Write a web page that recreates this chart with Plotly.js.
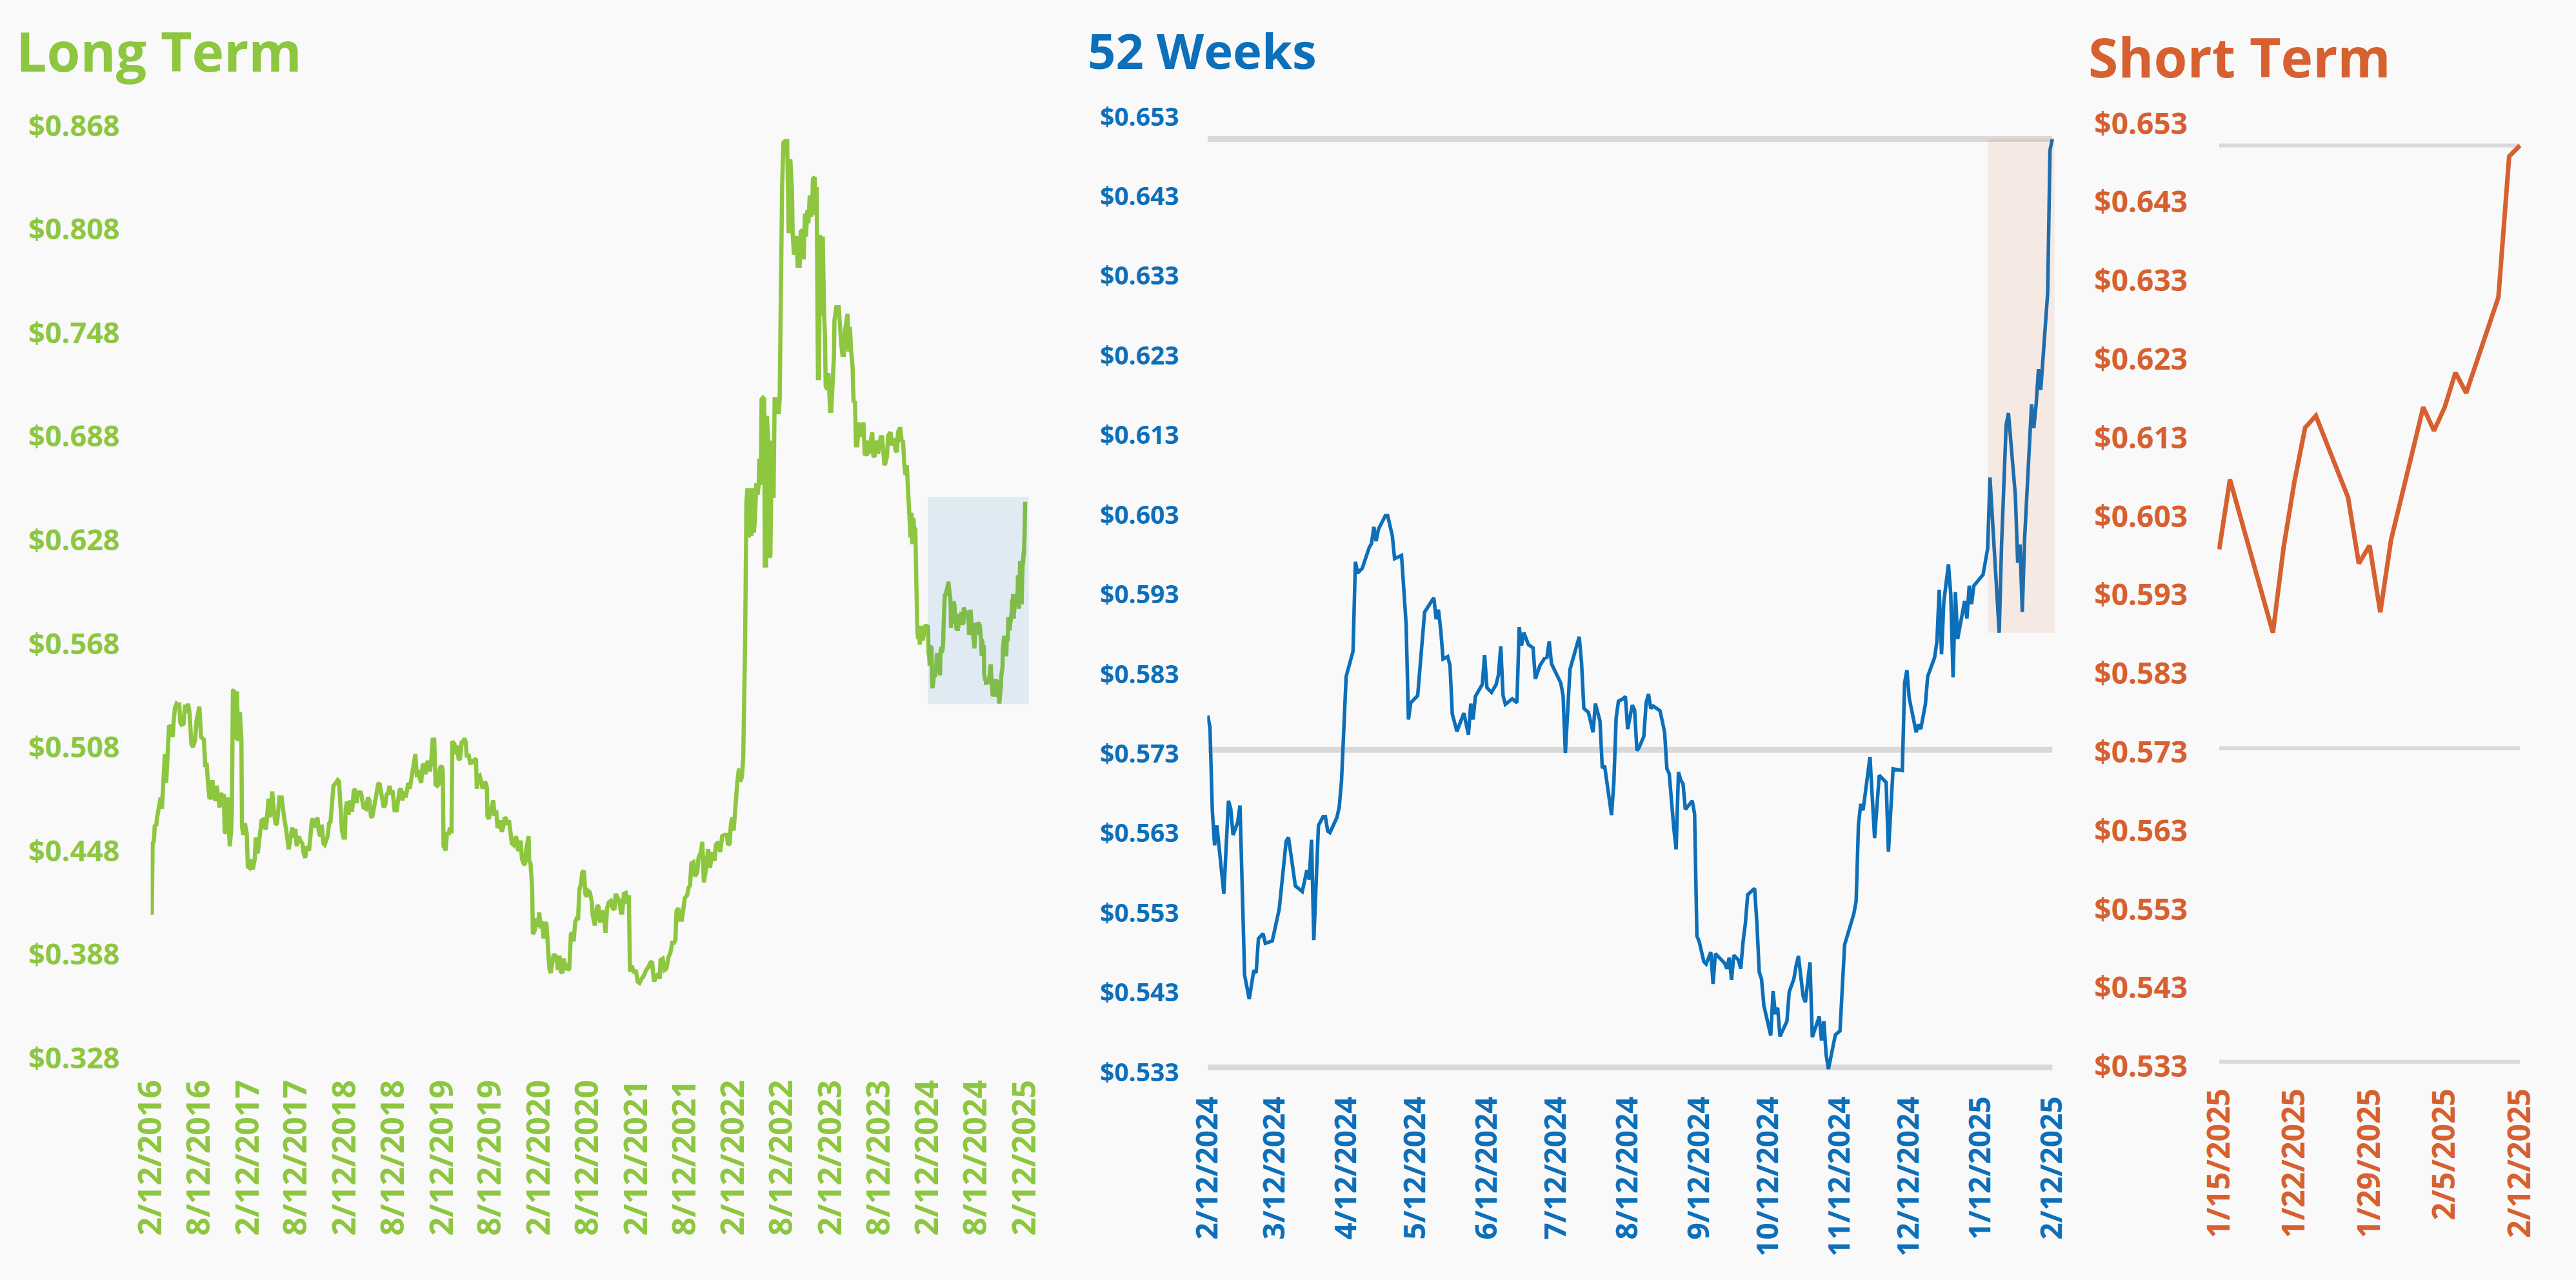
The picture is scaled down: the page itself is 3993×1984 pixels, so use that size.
<!DOCTYPE html>
<html><head><meta charset="utf-8">
<script src="https://cdn.plot.ly/plotly-3.0.1.min.js"></script>
<style>html,body{margin:0;padding:0;background:#F9F9F9;}#chart{width:3993px;height:1984px;}</style>
</head><body><div id="chart"></div>
<script>
// ---------- DATA ----------
const longDates = [
'2016-02-12','2016-02-14','2016-02-16','2016-02-19','2016-02-24','2016-02-27',
'2016-03-04','2016-03-06','2016-03-11','2016-03-15','2016-03-20','2016-03-25','2016-03-31',
'2016-04-05','2016-04-10','2016-04-16','2016-04-21','2016-04-27',
'2016-05-05','2016-05-08','2016-05-13','2016-05-19','2016-05-24','2016-05-29',
'2016-06-02','2016-06-07','2016-06-14','2016-06-20','2016-06-25',
'2016-07-01','2016-07-06','2016-07-09','2016-07-14','2016-07-20','2016-07-28',
'2016-08-02','2016-08-08','2016-08-13','2016-08-19','2016-08-24','2016-08-30',
'2016-09-04','2016-09-09','2016-09-15','2016-09-20','2016-09-25',
'2016-10-01','2016-10-06','2016-10-12','2016-10-17','2016-10-22','2016-10-28',
'2016-11-02','2016-11-08','2016-11-13','2016-11-16','2016-11-21','2016-11-27',
'2016-12-05','2016-12-10','2016-12-13','2016-12-17','2016-12-21','2016-12-27',
'2017-01-01','2017-01-06','2017-01-12','2017-01-15','2017-01-18','2017-01-20','2017-01-25','2017-01-31',
'2017-02-07','2017-02-11','2017-02-18','2017-02-26',
'2017-03-02','2017-03-09','2017-03-13','2017-03-20','2017-03-26','2017-03-31',
'2017-04-04','2017-04-14','2017-04-17','2017-04-21','2017-04-25','2017-04-30',
'2017-05-05','2017-05-14','2017-05-20','2017-05-27',
'2017-06-01','2017-06-10','2017-06-18','2017-06-23','2017-06-29',
'2017-07-04','2017-07-09','2017-07-15','2017-07-20','2017-07-28',
'2017-08-03','2017-08-09','2017-08-14','2017-08-22','2017-08-27',
'2017-09-04','2017-09-09','2017-09-15','2017-09-20','2017-09-29',
'2017-10-04','2017-10-10','2017-10-15','2017-10-20','2017-10-31',
'2017-11-05','2017-11-11','2017-11-16','2017-11-22','2017-11-27',
'2017-12-08','2017-12-14','2017-12-19','2017-12-24','2017-12-30',
'2018-01-04','2018-01-10','2018-01-15','2018-01-20','2018-01-26','2018-01-31',
'2018-02-06','2018-02-11','2018-02-14','2018-02-19','2018-02-25',
'2018-03-02','2018-03-10','2018-03-16','2018-03-21','2018-03-27',
'2018-04-01','2018-04-06','2018-04-12','2018-04-17','2018-04-22',
'2018-05-01','2018-05-09','2018-05-14','2018-05-20','2018-05-25','2018-05-30',
'2018-06-05','2018-06-10','2018-06-16','2018-06-21','2018-06-26',
'2018-07-02','2018-07-07','2018-07-13','2018-07-18','2018-07-24','2018-07-29',
'2018-08-03','2018-08-09','2018-08-17','2018-08-25','2018-08-30',
'2018-09-05','2018-09-10','2018-09-16','2018-09-21','2018-09-27',
'2018-10-02','2018-10-07','2018-10-13','2018-10-18','2018-10-24','2018-10-29',
'2018-11-03','2018-11-09','2018-11-14','2018-11-20','2018-11-25','2018-11-30',
'2018-12-06','2018-12-11','2018-12-17','2018-12-22','2018-12-28',
'2019-01-02','2019-01-07','2019-01-13','2019-01-18','2019-01-24','2019-01-29',
'2019-02-03','2019-02-09','2019-02-14','2019-02-17','2019-02-22','2019-02-25',
'2019-03-02','2019-03-08','2019-03-13','2019-03-19','2019-03-22','2019-03-30',
'2019-04-04','2019-04-09','2019-04-15','2019-04-20','2019-04-26',
'2019-05-01','2019-05-06','2019-05-12','2019-05-15','2019-05-23','2019-05-28',
'2019-06-02','2019-06-08','2019-06-13','2019-06-19','2019-06-22','2019-06-27',
'2019-07-03','2019-07-08','2019-07-14','2019-07-19','2019-07-25','2019-07-30',
'2019-08-01','2019-08-06','2019-08-12','2019-08-17','2019-08-23','2019-08-28',
'2019-09-03','2019-09-08','2019-09-13','2019-09-19','2019-09-24','2019-09-30',
'2019-10-05','2019-10-10','2019-10-16','2019-10-21','2019-10-27',
'2019-11-01','2019-11-07','2019-11-12','2019-11-17','2019-11-23','2019-11-28',
'2019-12-04','2019-12-09','2019-12-15','2019-12-20','2019-12-25','2019-12-30',
'2020-01-03','2020-01-05','2020-01-10','2020-01-16','2020-01-19','2020-01-27',
'2020-02-01','2020-02-06','2020-02-12','2020-02-17','2020-02-23','2020-02-28',
'2020-03-05','2020-03-10','2020-03-15','2020-03-21','2020-03-26',
'2020-04-01','2020-04-06','2020-04-12','2020-04-17','2020-04-22','2020-04-28',
'2020-05-03','2020-05-09','2020-05-14','2020-05-19','2020-05-25','2020-05-30',
'2020-06-04','2020-06-10','2020-06-15','2020-06-20','2020-06-26',
'2020-07-02','2020-07-07','2020-07-12','2020-07-18','2020-07-23','2020-07-29',
'2020-08-03','2020-08-09','2020-08-14','2020-08-20','2020-08-27','2020-08-31',
'2020-09-08','2020-09-17','2020-09-22','2020-09-28',
'2020-10-05','2020-10-11','2020-10-18','2020-10-24','2020-10-30',
'2020-11-07','2020-11-14','2020-11-21','2020-11-25',
'2020-12-01','2020-12-09','2020-12-15','2020-12-20','2020-12-26',
'2021-01-02','2021-01-08','2021-01-14','2021-01-18','2021-01-25',
'2021-02-02','2021-02-09','2021-02-16','2021-02-23',
'2021-03-03','2021-03-11','2021-03-20','2021-03-28',
'2021-04-04','2021-04-11','2021-04-15','2021-04-19','2021-04-26',
'2021-05-04','2021-05-10','2021-05-13','2021-05-21','2021-05-28',
'2021-06-04','2021-06-12','2021-06-19','2021-06-26',
'2021-07-03','2021-07-08','2021-07-12','2021-07-19','2021-07-25',
'2021-08-01','2021-08-08','2021-08-12','2021-08-21','2021-08-26',
'2021-09-01','2021-09-06','2021-09-14','2021-09-20','2021-09-28',
'2021-10-03','2021-10-12','2021-10-17','2021-10-23','2021-10-30',
'2021-11-08','2021-11-15','2021-11-24',
'2021-12-02','2021-12-07','2021-12-16','2021-12-23','2021-12-31',
'2022-01-09','2022-01-17','2022-01-22','2022-01-28',
'2022-02-01','2022-02-06','2022-02-12','2022-02-17','2022-02-21','2022-02-26',
'2022-03-04','2022-03-09','2022-03-15','2022-03-20','2022-03-23','2022-03-27',
'2022-04-01','2022-04-05','2022-04-10','2022-04-15','2022-04-20','2022-04-24','2022-04-29',
'2022-05-03','2022-05-08','2022-05-13','2022-05-17','2022-05-20','2022-05-25','2022-05-28',
'2022-06-02','2022-06-07','2022-06-09','2022-06-14','2022-06-17','2022-06-21','2022-06-25','2022-06-30',
'2022-07-04','2022-07-07','2022-07-12','2022-07-16','2022-07-26','2022-07-31',
'2022-08-04','2022-08-07','2022-08-13','2022-08-18','2022-08-25',
'2022-09-01','2022-09-04','2022-09-07','2022-09-13','2022-09-17','2022-09-19','2022-09-22','2022-09-27',
'2022-10-02','2022-10-06','2022-10-11','2022-10-14','2022-10-18','2022-10-22','2022-10-29',
'2022-11-02','2022-11-07','2022-11-11','2022-11-16','2022-11-20','2022-11-25','2022-11-30',
'2022-12-05','2022-12-07','2022-12-14','2022-12-17','2022-12-21','2022-12-26','2022-12-30',
'2023-01-02','2023-01-07','2023-01-13','2023-01-18','2023-01-21','2023-01-24','2023-01-30',
'2023-02-03','2023-02-06','2023-02-10','2023-02-14','2023-02-19','2023-02-24','2023-02-26',
'2023-03-05','2023-03-14','2023-03-19','2023-03-24','2023-03-28',
'2023-04-02','2023-04-07','2023-04-11','2023-04-16','2023-04-20','2023-04-25','2023-04-30',
'2023-05-05','2023-05-09','2023-05-14','2023-05-18','2023-05-23','2023-05-28',
'2023-06-01','2023-06-06','2023-06-10','2023-06-15','2023-06-20','2023-06-24','2023-06-29',
'2023-07-04','2023-07-08','2023-07-13','2023-07-18','2023-07-22','2023-07-27',
'2023-08-01','2023-08-05','2023-08-10','2023-08-15','2023-08-19','2023-08-24','2023-08-28',
'2023-09-02','2023-09-07','2023-09-11','2023-09-16','2023-09-21','2023-09-25','2023-09-30',
'2023-10-05','2023-10-09','2023-10-14','2023-10-19','2023-10-23','2023-10-28',
'2023-11-01','2023-11-06','2023-11-11','2023-11-15','2023-11-20','2023-11-25','2023-11-27',
'2023-12-02','2023-12-06','2023-12-09','2023-12-13','2023-12-16','2023-12-20','2023-12-22','2023-12-27','2023-12-30',
'2024-01-03','2024-01-06','2024-01-10','2024-01-13','2024-01-18','2024-01-24','2024-01-29',
'2024-02-04','2024-02-07'
];
const longValues = [
.4477,.4190,.4110,.4523,.4540,.4623,
.4632,.4665,.4724,.4773,.4790,.4724,.4949,
.5040,.4874,.5040,.5207,.5199,
.5141,.5232,.5307,.5332,.5324,.5327,
.5224,.5211,.5216,.5327,.5282,
.5332,.5290,.5227,.5099,.5082,.5124,
.5232,.5274,.5316,.5140,.5132,.5124,
.4965,.4990,.4857,.4782,.4790,
.4890,.4790,.4773,.4857,.4790,.4732,
.4815,.4790,.4807,.4590,.4582,.4790,
.4507,.4590,.4707,.5407,.5411,.5124,
.5404,.5115,.5282,.5124,.5124,.4623,.4573,.4640,
.4582,.4390,.4382,.4432,
.4373,.4432,.4557,.4465,.4540,.4615,
.4657,.4665,.4607,.4615,.4707,.4782,
.4674,.4824,.4707,.4632,
.4640,.4790,.4790,.4707,.4657,
.4615,.4573,.4490,.4540,.4615,
.4557,.4607,.4507,.4565,.4540,
.4523,.4465,.4440,.4507,.4482,
.4557,.4657,.4665,.4615,.4674,
.4590,.4565,.4632,.4523,.4515,
.4565,.4640,.4649,.4740,.4857,
.4865,.4874,.4890,.4882,.4724,.4598,
.4557,.4557,.4724,.4765,.4690,
.4773,.4707,.4824,.4840,.4757,
.4824,.4815,.4824,.4757,.4732,
.4724,.4790,.4773,.4682,.4674,.4724,
.4749,.4807,.4865,.4874,.4824,
.4790,.4732,.4749,.4807,.4815,.4857,
.4807,.4832,.4715,.4715,.4773,
.4832,.4840,.4773,.4824,.4790,
.4824,.4874,.4840,.4882,.4949,.4999,
.5040,.4907,.4949,.4899,.4874,.4974,
.4982,.4924,.4990,.4999,.4940,
.5007,.5124,.5124,.4865,.4857,.4865,
.4957,.4974,.4949,.4507,.4499,.4482,
.4590,.4573,.4615,.4582,.5115,.5099,
.5040,.5090,.5007,.5015,.5107,
.5107,.5132,.5107,.5032,.5032,.4990,
.4990,.4999,.5007,.5015,.4840,.4907,
.4915,.4890,.4840,.4874,.4874,.4849,
.4682,.4665,.4707,.4749,.4773,.4682,
.4715,.4615,.4623,.4657,.4590,.4623,
.4674,.4665,.4632,.4657,.4573,
.4523,.4515,.4540,.4565,.4490,.4482,
.4540,.4432,.4407,.4398,.4490,.4523,
.4565,.4423,.4407,.4273,.3998,.4023,
.4090,.4040,.4123,.4031,.4073,.3973,
.4065,.4057,.3890,.3798,.3773,
.3840,.3881,.3873,.3865,.3790,.3873,
.3781,.3773,.3857,.3790,.3831,.3790,
.3798,.3998,.4006,.3956,.4065,
.4090,.4090,.4257,.4290,.4357,.4365,
.4231,.4215,.4248,.4240,.4190,.4106,
.4048,.4165,.4156,.4065,
.4123,.4131,.4006,.4148,.4181,
.4190,.4148,.4140,.4231,
.4215,.4190,.4123,.4123,.4231,
.4236,.4173,.4223,.3781,.3815,
.3773,.3790,.3723,.3715,
.3740,.3757,.3790,.3806,
.3831,.3840,.3773,.3723,.3757,
.3765,.3740,.3848,.3856,.3790,
.3798,.3865,.3890,.3948,
.3948,.3965,.4131,.4148,.4082,
.4082,.4156,.4206,.4223,.4265,
.4281,.4407,.4415,.4332,.4357,
.4440,.4473,.4532,.4298,.4365,
.4490,.4382,.4473,
.4423,.4515,.4532,.4473,.4565,
.4573,.4573,.4515,.4523,
.4623,.4674,.4598,.4774,.4782,.4882,
.4957,.4882,.4907,.5024,.5274,.5691,
.6505,.6581,.6295,.6581,.6304,.6581,.6324,
.6409,.6610,.6543,.6600,.6752,.6600,.7096,
.7105,.7096,.6133,.6133,.7000,.6886,.6181,.6190,
.6638,.6857,.6524,.7096,.7096,.7010,
.7096,.7744,.8315,.8582,.8592,
.8592,.8353,.8058,.8487,.8353,.8315,.8048,.7934,
.8029,.8039,.7858,.8001,.7858,.8067,.8077,
.7906,.8172,.8039,.8191,.8115,.8277,.8153,
.8249,.8372,.8382,.8163,.8325,.7219,.7219,
.8048,.7581,.8039,.7591,.7477,.7172,.7153,
.7248,.7077,.7029,.7029,.7191,.7343,.7553,
.7629,.7629,.7477,.7410,.7353,
.7353,.7496,.7563,.7591,.7372,.7515,.7372,
.7286,.7077,.7086,.6829,.6829,.6962,
.6876,.6953,.6886,.6962,.6771,.6781,.6771,
.6857,.6781,.6857,.6905,.6771,.6762,
.6857,.6791,.6791,.6829,.6876,.6876,.6752,
.6714,.6733,.6762,.6886,.6905,.6905,.6829,
.6867,.6857,.6800,.6791,.6905,.6924,
.6924,.6848,.6857,.6733,.6657,.6714,.6638,
.6581,.6428,.6295,.6438,.6257,.6409,.6352,.6343,.5876,
.5799,.5708,.5771,.5674,.5783,.5699,.5758,
.5791,.5780
];

const weekDates = [
'2024-02-12','2024-02-13','2024-02-14','2024-02-15','2024-02-16','2024-02-19','2024-02-21','2024-02-22','2024-02-23','2024-02-25','2024-02-26','2024-02-28',
'2024-03-01','2024-03-03','2024-03-04','2024-03-05','2024-03-07','2024-03-08','2024-03-11','2024-03-13','2024-03-14','2024-03-17','2024-03-18','2024-03-19','2024-03-20','2024-03-21','2024-03-24','2024-03-26','2024-03-27','2024-03-28','2024-03-29','2024-03-31',
'2024-04-02','2024-04-03','2024-04-04','2024-04-05','2024-04-08','2024-04-09','2024-04-10','2024-04-11','2024-04-12','2024-04-15','2024-04-16','2024-04-17','2024-04-19','2024-04-22','2024-04-23','2024-04-24','2024-04-25','2024-04-26','2024-04-29','2024-04-30',
'2024-05-01','2024-05-02','2024-05-03','2024-05-06','2024-05-07','2024-05-08','2024-05-09','2024-05-10','2024-05-13','2024-05-16','2024-05-20','2024-05-21','2024-05-22','2024-05-23','2024-05-24','2024-05-26','2024-05-27','2024-05-28','2024-05-30',
'2024-06-02','2024-06-04','2024-06-05','2024-06-06','2024-06-07','2024-06-10','2024-06-11','2024-06-12','2024-06-14','2024-06-16','2024-06-17','2024-06-18','2024-06-19','2024-06-20','2024-06-23','2024-06-25','2024-06-26','2024-06-27','2024-06-28','2024-06-30',
'2024-07-02','2024-07-03','2024-07-05','2024-07-07','2024-07-08','2024-07-09','2024-07-10','2024-07-14','2024-07-15','2024-07-16','2024-07-18','2024-07-22','2024-07-23','2024-07-24','2024-07-26','2024-07-28','2024-07-29','2024-07-31',
'2024-08-01','2024-08-02','2024-08-05','2024-08-06','2024-08-07','2024-08-08','2024-08-10','2024-08-11','2024-08-12','2024-08-14','2024-08-15','2024-08-16','2024-08-17','2024-08-19','2024-08-20','2024-08-21','2024-08-22','2024-08-23','2024-08-26','2024-08-27','2024-08-28','2024-08-29','2024-08-30',
'2024-09-01','2024-09-02','2024-09-03','2024-09-04','2024-09-05','2024-09-06','2024-09-09','2024-09-10','2024-09-11','2024-09-12','2024-09-14','2024-09-15','2024-09-17','2024-09-18','2024-09-19','2024-09-23','2024-09-24','2024-09-25','2024-09-26','2024-09-27','2024-09-29','2024-09-30',
'2024-10-01','2024-10-02','2024-10-03','2024-10-06','2024-10-07','2024-10-08','2024-10-09','2024-10-10','2024-10-13','2024-10-14','2024-10-15','2024-10-16','2024-10-17','2024-10-20','2024-10-21','2024-10-23','2024-10-24','2024-10-25','2024-10-27','2024-10-28','2024-10-30','2024-10-31',
'2024-11-03','2024-11-04','2024-11-05','2024-11-06','2024-11-07','2024-11-10','2024-11-12','2024-11-13','2024-11-14','2024-11-18','2024-11-19','2024-11-20','2024-11-21','2024-11-22','2024-11-25','2024-11-27','2024-11-29',
'2024-12-02','2024-12-03','2024-12-05','2024-12-09','2024-12-10','2024-12-11','2024-12-12','2024-12-15','2024-12-16','2024-12-17','2024-12-19','2024-12-20','2024-12-23','2024-12-24','2024-12-25','2024-12-26','2024-12-27','2024-12-29','2024-12-30','2024-12-31',
'2025-01-01','2025-01-02','2025-01-05','2025-01-06','2025-01-07','2025-01-08','2025-01-09','2025-01-11','2025-01-13'
];
const weekValues = [
.5778,.5763,.5659,.5615,.5640,.5554,.5671,.5661,.5628,.5644,.5665,.5452,
.5422,.5458,.5455,.5498,.5504,.5492,.5495,.5523,.5535,.5620,.5625,.5605,.5585,.5564,.5557,.5584,.5572,.5622,.5496,.5640,
.5651,.5651,.5633,.5631,.5650,.5663,.5696,.5766,.5827,.5859,.5971,.5957,.5963,.5989,.5994,.6015,.5997,.6012,.6029,.6029,
.6015,.6004,.5975,.5979,.5936,.5892,.5773,.5794,.5803,.5908,.5926,.5899,.5911,.5885,.5849,.5852,.5841,.5780,.5758,
.5781,.5754,.5793,.5773,.5802,.5817,.5854,.5813,.5807,.5817,.5829,.5865,.5803,.5792,.5799,.5794,.5889,.5866,.5882,.5867,
.5863,.5824,.5841,.5850,.5851,.5871,.5843,.5819,.5803,.5731,.5836,.5877,.5845,.5787,.5782,.5757,.5793,.5771,
.5712,.5715,.5653,.5694,.5775,.5796,.5799,.5802,.5761,.5791,.5785,.5734,.5738,.5752,.5794,.5805,.5787,.5790,.5784,.5771,.5757,.5711,.5705,
.5636,.5610,.5707,.5697,.5692,.5660,.5671,.5654,.5501,.5494,.5469,.5466,.5481,.5441,.5479,.5467,.5460,.5474,.5446,.5477,.5471,.5460,
.5494,.5517,.5553,.5561,.5517,.5456,.5447,.5414,.5376,.5432,.5403,.5411,.5375,.5394,.5431,.5447,.5464,.5476,.5426,.5418,.5468,.5374,
.5400,.5370,.5394,.5352,.5334,.5377,.5382,.5440,.5490,.5529,.5545,.5641,.5667,.5659,.5726,.5624,.5703,
.5694,.5607,.5711,.5709,.5819,.5835,.5800,.5757,.5767,.5761,.5792,.5827,.5851,.5871,.5936,.5855,.5921,.5968,.5930,.5826,
.5933,.5874,.5922,.5900,.5941,.5918,.5941,.5948,.5955
];

const shortDates = ['2025-01-15','2025-01-16','2025-01-17','2025-01-20','2025-01-21','2025-01-22','2025-01-23','2025-01-24',
'2025-01-27','2025-01-28','2025-01-29','2025-01-30','2025-01-31','2025-02-03','2025-02-04','2025-02-05','2025-02-06','2025-02-07',
'2025-02-10','2025-02-11','2025-02-12'];
const shortValues = [.5988,.6077,.6028,.5882,.5991,.6074,.6143,.6158,
.6054,.5970,.5993,.5908,.6000,.6169,.6139,.6169,.6213,.6187,
.6309,.6488,.6502];

// 52-week reference levels (high, middle, low)
const refLevels = [0.6502, 0.5735, 0.5336];

// tick labels
const longXTicks = ['2016-02-12','2016-08-12','2017-02-12','2017-08-12','2018-02-12','2018-08-12','2019-02-12','2019-08-12',
'2020-02-12','2020-08-12','2021-02-12','2021-08-12','2022-02-12','2022-08-12','2023-02-12','2023-08-12','2024-02-12','2024-08-12','2025-02-12'];
const weekXTicks = ['2024-02-12','2024-03-12','2024-04-12','2024-05-12','2024-06-12','2024-07-12','2024-08-12','2024-09-12',
'2024-10-12','2024-11-12','2024-12-12','2025-01-12','2025-02-12'];
const shortXTicks = ['2025-01-15','2025-01-22','2025-01-29','2025-02-05','2025-02-12'];
const longYTicks = [0.328,0.388,0.448,0.508,0.568,0.628,0.688,0.748,0.808,0.868];
const weekYTicks = [0.533,0.543,0.553,0.563,0.573,0.583,0.593,0.603,0.613,0.623,0.633,0.643,0.653];
const shortYTicks = weekYTicks;

const titles = ['Long Term', '52 Weeks', 'Short Term'];

if (longDates.length !== longValues.length) throw new Error('long mismatch ' + longDates.length + ' vs ' + longValues.length);
if (weekDates.length !== weekValues.length) throw new Error('week mismatch ' + weekDates.length + ' vs ' + weekValues.length);

// ---------- STYLE ----------
const GREEN = '#8DC63F', BLUE = '#0C6FBA', ORANGE = '#D6602F', GRAY = '#D9D9D9', BG = '#F9F9F9';
const FONT = 'Open Sans, Noto Sans, sans-serif';
const W = 3993, H = 1984;
const fx = p => p / W, fy = p => 1 - p / H;
const money = v => '$' + v.toFixed(3);

const longX = longDates.concat(weekDates, shortDates);
const longY = longValues.concat(weekValues, shortValues);
const weekX = weekDates.concat(shortDates);
const weekY = weekValues.concat(shortValues);
const shortMin = Math.min(...shortValues), shortMax = Math.max(...shortValues);

const traces = [
  {type:'scatter', mode:'lines', x:longX, y:longY, xaxis:'x', yaxis:'y', line:{color:GREEN, width:6.5}, hoverinfo:'skip'},
  {type:'scatter', mode:'lines', x:weekX, y:weekY, xaxis:'x2', yaxis:'y2', line:{color:BLUE, width:5.5}, hoverinfo:'skip'},
  {type:'scatter', mode:'lines', x:shortDates, y:shortValues, xaxis:'x3', yaxis:'y3', line:{color:ORANGE, width:7}, hoverinfo:'skip'}
];

function xAx(domain, range, ticks, color, size, len, anchor) {
  return {type:'date', domain, range, anchor, tickmode:'array', tickvals:ticks, tickformat:'%-m/%-d/%Y', tickangle:-90,
    tickfont:{family:FONT, size, color, weight:700}, ticks:'outside', ticklen:len, tickcolor:'rgba(0,0,0,0)',
    showgrid:false, zeroline:false, showline:false, fixedrange:true, automargin:false};
}
function yAx(domain, range, ticks, color, size, len, anchor) {
  return {domain, range, anchor, tickmode:'array', tickvals:ticks, ticktext:ticks.map(money),
    tickfont:{family:FONT, size, color, weight:700}, ticks:'outside', ticklen:len, tickcolor:'rgba(0,0,0,0)',
    showgrid:false, zeroline:false, showline:false, fixedrange:true, automargin:false};
}

const shapes = [];
refLevels.forEach(v => {
  shapes.push({type:'line', xref:'x2', yref:'y2', x0:weekX[0], x1:weekX[weekX.length-1], y0:v, y1:v,
    line:{color:GRAY, width:9}, layer:'below'});
  shapes.push({type:'line', xref:'x3', yref:'y3', x0:shortDates[0], x1:shortDates[shortDates.length-1], y0:v, y1:v,
    line:{color:GRAY, width:6}, layer:'below'});
});
shapes.push({type:'rect', xref:'x', yref:'y', x0:weekDates[0], x1:'2025-02-26', y0:weekYTicks[0], y1:weekYTicks[weekYTicks.length-1],
  fillcolor:BLUE, opacity:0.1, line:{width:0}, layer:'above'});
shapes.push({type:'rect', xref:'x2', yref:'y2', x0:shortDates[0], x1:'2025-02-13', y0:shortMin, y1:shortMax,
  fillcolor:ORANGE, opacity:0.1, line:{width:0}, layer:'above'});

const ann = (text, xpx, ypx, color, size) => ({text, xref:'paper', yref:'paper', x:fx(xpx), y:fy(ypx),
  xanchor:'left', yanchor:'middle', showarrow:false, font:{family:FONT, size, color, weight:700}});

const layout = {
  width:W, height:H, margin:{l:0, r:0, t:0, b:0}, paper_bgcolor:BG, plot_bgcolor:'rgba(0,0,0,0)',
  showlegend:false, font:{family:FONT},
  xaxis: xAx([fx(233.6), fx(1594.8)], ['2016-02-11 20:00','2025-02-26'], longXTicks, GREEN, 50, 13, 'y'),
  yaxis: yAx([fy(1640), fy(195)], [0.3279999, 0.8680001], longYTicks, GREEN, 45, 38, 'x'),
  xaxis2: xAx([fx(1871.4), fx(3184.8)], ['2024-02-11 20:00','2025-02-13'], weekXTicks, BLUE, 46, 18, 'y2'),
  yaxis2: yAx([fy(1662), fy(181)], [0.5329999, 0.6530001], weekYTicks, BLUE, 39, 35, 'x2'),
  xaxis3: xAx([fx(3437.2), fx(3908.8)], ['2025-01-14 20:00','2025-02-12 04:00'], shortXTicks, ORANGE, 48, 14, 'y3'),
  yaxis3: yAx([fy(1653), fy(191.4)], [0.5329999, 0.6530001], shortYTicks, ORANGE, 46, 36, 'x3'),
  shapes,
  annotations: [
    ann(titles[0], 23, 79, GREEN, 84),
    ann(titles[1], 1684, 77, BLUE, 76),
    ann(titles[2], 3235, 88, ORANGE, 84)
  ]
};

Plotly.newPlot('chart', traces, layout, {staticPlot:true, displayModeBar:false});
</script></body></html>
